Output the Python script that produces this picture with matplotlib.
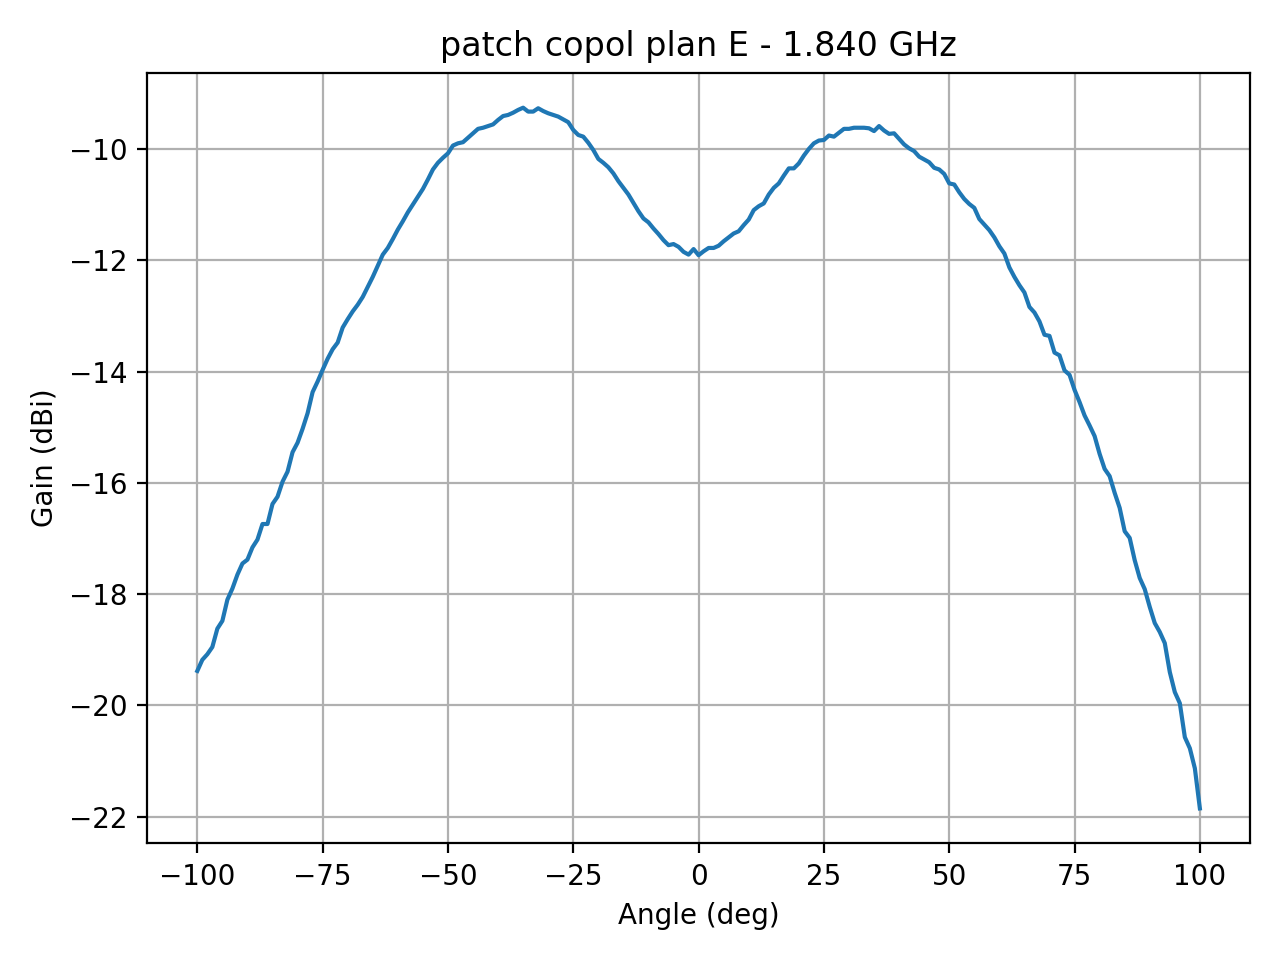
import numpy as np
import matplotlib
matplotlib.use("Agg")
import matplotlib.pyplot as plt

# mesure diagramme E, pas de 1 degre
angles = np.arange(-100, 101, 1)
gain_dbi = [
    -19.38, -19.18, -19.08, -18.95, -18.62, -18.48, -18.10, -17.90, -17.65, -17.45,  # -100..-91
    -17.38, -17.16, -17.02, -16.74, -16.74, -16.38, -16.25, -15.98, -15.80, -15.45,  # -90..-81
    -15.28, -15.03, -14.75, -14.37, -14.18, -13.97, -13.77, -13.60, -13.48, -13.21,  # -80..-71
    -13.06, -12.92, -12.80, -12.66, -12.48, -12.30, -12.10, -11.90, -11.78, -11.62,  # -70..-61
    -11.45, -11.30, -11.14, -11.00, -10.86, -10.72, -10.55, -10.37, -10.25, -10.16,  # -60..-51
    -10.08, -9.94, -9.90, -9.88, -9.80, -9.72, -9.64, -9.62, -9.59, -9.56,           # -50..-41
    -9.48, -9.41, -9.39, -9.35, -9.30, -9.26, -9.33, -9.33, -9.27, -9.32,            # -40..-31
    -9.36, -9.39, -9.42, -9.47, -9.52, -9.66, -9.75, -9.78, -9.89, -10.02,           # -30..-21
    -10.18, -10.25, -10.33, -10.44, -10.58, -10.70, -10.82, -10.97, -11.12, -11.25,  # -20..-11
    -11.32, -11.43, -11.53, -11.64, -11.73, -11.71, -11.76, -11.85, -11.90, -11.80,  # -10..-1
    -11.91,                                                                          # 0
    -11.84, -11.78, -11.78, -11.74, -11.66, -11.59, -11.52, -11.48, -11.37, -11.27,  # 1..10
    -11.10, -11.03, -10.98, -10.82, -10.70, -10.62, -10.48, -10.35, -10.35, -10.26,  # 11..20
    -10.12, -10.00, -9.90, -9.85, -9.84, -9.76, -9.78, -9.71, -9.64, -9.64,          # 21..30
    -9.62, -9.62, -9.62, -9.63, -9.68, -9.59, -9.67, -9.73, -9.72, -9.82,            # 31..40
    -9.92, -9.99, -10.04, -10.14, -10.19, -10.24, -10.34, -10.37, -10.45, -10.62,    # 41..50
    -10.64, -10.78, -10.90, -10.99, -11.06, -11.26, -11.36, -11.46, -11.59, -11.75,  # 51..60
    -11.88, -12.13, -12.30, -12.45, -12.58, -12.84, -12.94, -13.10, -13.34, -13.36,  # 61..70
    -13.66, -13.71, -13.98, -14.06, -14.33, -14.55, -14.79, -14.97, -15.16, -15.48,  # 71..80
    -15.75, -15.88, -16.18, -16.45, -16.87, -16.99, -17.39, -17.71, -17.91, -18.23,  # 81..90
    -18.52, -18.68, -18.88, -19.40, -19.76, -19.96, -20.57, -20.77, -21.13, -21.85,  # 91..100
]

fig, ax = plt.subplots(figsize=(6.4, 4.8), dpi=200)
ax.plot(angles, gain_dbi)
ax.set_title("patch copol plan E - 1.840 GHz")
ax.set_xlabel("Angle (deg)")
ax.set_ylabel("Gain (dBi)")
ax.grid(True)
fig.tight_layout()
fig.savefig("out.png")
